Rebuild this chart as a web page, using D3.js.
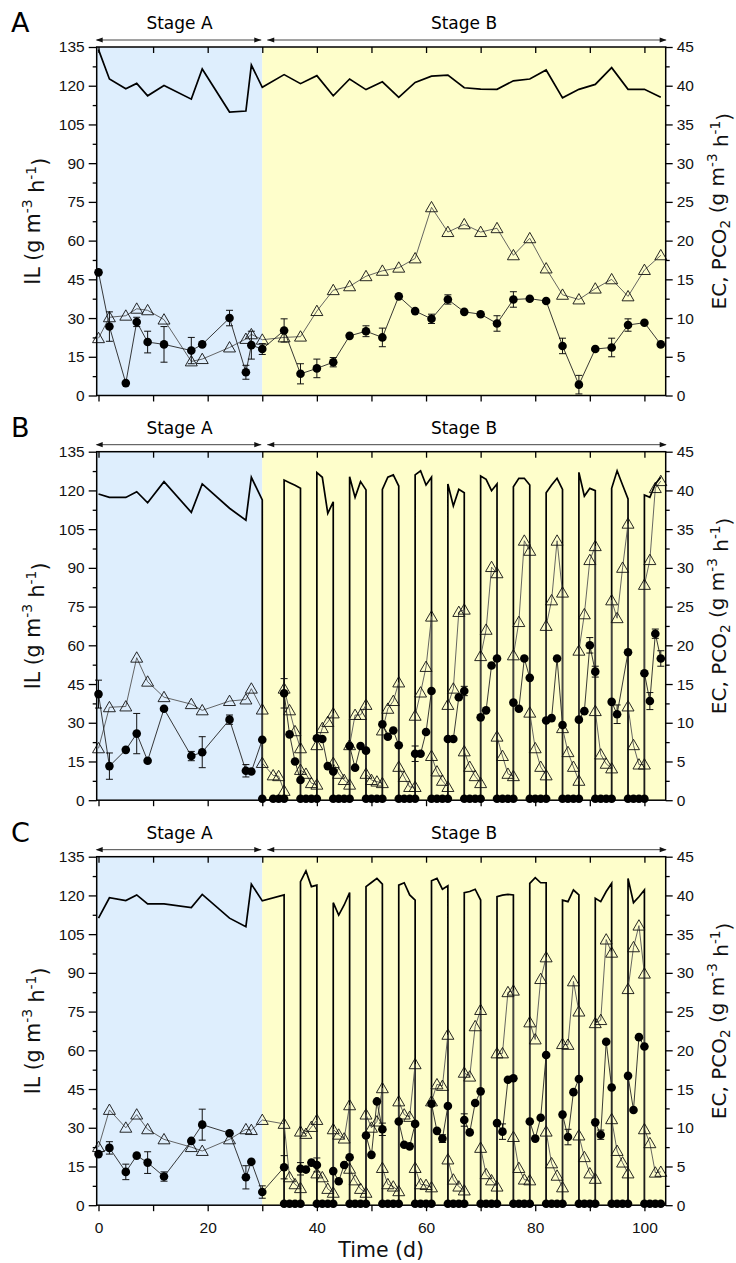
<!DOCTYPE html>
<html>
<title>IL, EC and PCO2 vs time</title>
<style>
  body { margin: 0; background: #fff; }
  svg { display: block; font-family: "DejaVu Sans", sans-serif; }
  .tick text { font-size: 15.5px; fill: #111; }
  .tick line { stroke: #000; stroke-width: 1.3; }
  .domain { display: none; }
</style>
<script src="https://cdn.jsdelivr.net/npm/d3@7"></script>
<svg width="736" height="1263"></svg>
<script>

// ---- panel A (sampling days shared by all three series) ----
const dayA = [0,2,5,7,9,12,17,19,24,27,28,30,34,37,40,43,46,49,52,55,58,61,64,67,70,73,76,79,82,85,88,91,94,97,100,103];
const ilA = [134,122.6,118.8,120.9,116.1,120.1,114.8,126.5,109.8,110.2,128,119.4,124.3,120.8,123.9,116.1,122.6,118.5,121.5,115.5,121.3,123.7,124.1,119.2,118.7,118.6,121.9,122.6,126.1,115.3,118.6,120.5,127,118.6,118.6,115.5];
const ecA = [15.9,8.9,1.6,9.5,6.9,6.6,5.8,6.6,10.0,3.0,6.5,6.0,8.4,2.8,3.5,4.3,7.7,8.3,7.5,12.8,10.9,9.9,12.4,10.8,10.5,9.3,12.4,12.5,12.2,6.4,1.4,6.0,6.2,9.1,9.4,6.6];
const ecErrA = [0,1.9,0,0.6,1.4,2.3,1.7,0,1.0,0.9,1.8,0.7,1.5,1.3,1.2,0.6,0,0.7,1.2,0,0,0.6,0.6,0,0,1.0,1.0,0,0,1.0,1.2,0,1.2,0.8,0,0];
const pco2A = [7.4,10.1,10.3,11.2,11.0,9.8,4.4,4.7,6.2,7.3,7.9,7.2,7.5,7.6,10.9,13.6,14.1,15.4,16.1,16.5,17.7,24.3,21.1,22.1,21.1,21.6,18.1,20.3,16.4,13.0,12.4,13.8,15.0,12.8,16.2,18.1];

// ---- panel B: [day, value] (EC: [day, value, sd]); repeated days = feed switched on/off ----
const ilB = [[0,118.6],[2,117.3],[5,117.3],[7,119.5],[9,115.2],[12,123.4],[17,111.5],[19,122.5],[24,113.1],[27,108.5],[28,125.1],[30,116.3],
  [30,0],[34,0],[34,124],[35,123],[36,122],[37,120.8],[37,0],[40,0],[40,126.9],[41,125.1],[42,111.1],[43,115.6],[43,0],[46,0],
  [46,125.3],[47,117.3],[48,123.4],[49,120.2],[49,0],[52,0],[52,120.4],[53,125.1],[54,126],[55,121.7],[55,0],[58,0],
  [58,126],[59,127.6],[60,122.1],[61,125.1],[61,0],[64,0],[64,122.5],[65,114],[66,120.4],[67,119.1],[67,0],[70,0],
  [70,125.6],[71,124.3],[72,119.9],[73,122.5],[73,0],[76,0],[76,121.4],[77,124.7],[78,124.7],[79,122.1],[79,0],[82,0],
  [82,119.1],[83,122.1],[84,124.7],[85,120.4],[85,0],[88,0],[88,127],[89,117.8],[90,120.8],[91,119.9],[91,0],[94,0],
  [94,120.8],[95,127.6],[96,122.1],[97,116.7],[97,0],[100,0],[100,118.2],[101,117.3],[102,122.5],[103,125.1]];
const ecB = [[0,13.7,1.8],[2,4.4,1.7],[5,6.5,0],[7,8.6,2.6],[9,5.1,0],[12,11.8,0],[17,5.7,0.6],[19,6.2,2.0],[24,10.4,0.6],[27,3.8,0.8],[28,3.7,0],[30,7.8,0],
  [30,0],[32,0],[33,0],[34,0],[34,13.8,1.9],[35,8.5],[36,5.0],[37,2.6],[37,0],[38,0],[39,0],[40,0],
  [40,8.0],[41,7.9],[42,4.4],[43,3.7],[43,0],[44,0],[45,0],[46,0],[46,7.0],[47,4.2],[48,7.0],[49,6.4],[49,0],[50,0],[51,0],[52,0],
  [52,9.8],[53,8.2],[54,9.0],[55,7.1],[55,0],[56,0],[57,0],[58,0],[58,6.0,1.0],[59,6.0],[60,8.8],[61,14.1],[61,0],[62,0],[63,0],[64,0],
  [64,7.9],[65,7.9],[66,13.3],[67,14.1,0.6],[67,0],[68,0],[69,0],[70,0],[70,10.7],[71,11.6],[72,17.4],[73,18.3],[73,0],[74,0],[75,0],[76,0],
  [76,12.6],[77,11.8],[78,18.3],[79,15.8],[79,0],[80,0],[81,0],[82,0],[82,10.3],[83,10.6],[84,18.3],[85,9.7],[85,0],[86,0],[87,0],[88,0],
  [88,10.4],[89,11.5],[90,20.0,1.0],[91,16.6,0.7],[91,0],[92,0],[93,0],[94,0],[94,12.7],[95,11.1,1.2],[97,19.1],[97,0],[98,0],[99,0],[100,0],
  [100,16.4],[101,12.8,1.1],[102,21.5,0.6],[103,18.3,1.0]];
const pco2B = [[0,6.7],[2,12.0],[5,12.1],[7,18.4],[9,15.3],[12,13.3],[17,12.4],[19,11.6],[24,12.8],[27,13.0],[28,14.4],[30,11.7],
  [30,4.8],[32,3.2],[33,3.1],[34,1.2],[34,14.4],[35,11.6],[36,8.9],[37,6.7],[37,3.9],[38,3.4],[39,2.2],[40,2.0],
  [40,7.1],[41,9.3],[42,10.1],[43,11.2],[43,4.8],[44,3.4],[45,2.6],[46,2.0],[46,7.1],[47,11.0],[48,11.0],[49,12.3],
  [49,3.4],[50,2.6],[51,2.4],[52,2.2],[52,9.0],[53,11.8],[54,12.8],[55,15.2],[55,4.3],[56,3.0],[57,1.7],[58,1.7],
  [58,10.9],[59,13.9],[60,17.2],[61,23.7],[61,5.7],[62,3.7],[63,2.5],[64,1.7],[64,12.3],[65,14.4],[66,24.3],[67,24.6],
  [67,6.3],[68,4.3],[69,3.1],[70,2.2],[70,18.6],[71,22.0],[72,30.1],[73,29.3],[73,8.2],[74,5.7],[75,3.4],[76,3.1],
  [76,18.7],[77,23.0],[78,33.5],[79,32.2],[79,11.3],[80,6.7],[81,4.3],[82,3.2],[82,22.5],[83,25.8],[84,33.5],[85,26.8],
  [85,9.3],[86,6.2],[87,4.3],[88,2.5],[88,19.3],[89,24.0],[90,31.0],[91,32.8],[91,11.5],[92,5.9],[93,4.7],[94,4.1],
  [94,25.8],[95,23.5],[96,30.0],[97,35.7],[97,12.1],[98,7.1],[99,4.6],[100,4.6],[100,27.8],[101,31.0],[102,40.3],[103,41.2]];

// ---- panel C ----
const ilC = [[0,111.2],[2,119.1],[5,118],[7,120.2],[9,116.7],[12,116.7],[17,115.3],[19,120.4],[24,111.2],[27,107.9],[28,124.4],[30,117.9],
  [34,120.2],[34,0],[37,0],[37,125.3],[38,129.5],[39,123.4],[40,124],[40,0],[43,0],[43,117.2],[44,112.4],[45,116.3],[46,121.1],[46,0],
  [49,0],[49,123.4],[50,125],[51,126.6],[52,124.4],[52,0],[55,0],[55,124],[56,124.9],[57,120.2],[58,118.2],[58,0],
  [61,0],[61,125.7],[62,126.6],[63,122.4],[64,123.7],[64,0],[67,0],[67,121.1],[68,121.5],[69,122.4],[70,118.2],[70,0],
  [73,0],[73,119.5],[74,120.1],[75,120.4],[76,120.2],[76,0],[79,0],[79,124.7],[80,126.9],[81,124.9],[82,124.9],[82,0],
  [85,0],[85,118.2],[86,117.6],[87,122.1],[88,120.2],[88,0],[91,0],[91,118.9],[92,117.6],[93,121.5],[94,124.7],[94,0],
  [97,0],[97,126.6],[98,117.2],[99,119.5],[100,122.1],[100,0],[103,0]];
const ecC = [[0,6.6,0],[2,7.4,0.8],[5,4.3,1.0],[7,6.4,0],[9,5.5,1.4],[12,3.7,0.6],[17,8.3,0],[19,10.4,2.0],[24,9.3,0],[27,3.6,1.5],[28,5.6,0],[30,1.7,0.8],
  [34,4.9,1.5],[34,0],[35,0],[36,0],[37,0],[37,4.7,0.8],[38,4.6],[39,5.5],[40,5.2,0.9],[40,0],[41,0],[42,0],[43,0],
  [43,4.4],[44,3.1],[45,5.2],[46,6.2],[46,0],[47,0],[48,0],[49,0],[49,9.0],[50,6.5],[51,13.4],[52,9.8,0.8],[52,0],[53,0],[54,0],[55,0],
  [55,10.8],[56,7.8],[57,7.6],[58,10.5],[58,0],[59,0],[60,0],[61,0],[61,13.1],[62,9.6],[63,8.6,0.5],[64,12.8],[64,0],[65,0],[66,0],[67,0],
  [67,11.0,0.8],[68,9.4],[69,13.2],[70,14.7],[70,0],[71,0],[72,0],[73,0],[73,10.6],[74,9.5,1.0],[75,16.2],[76,16.4],[76,0],[77,0],[78,0],[79,0],
  [79,10.8],[80,8.6],[81,11.3],[82,19.4],[82,0],[83,0],[84,0],[85,0],[85,11.7],[86,8.8,1.0],[87,14.6],[88,16.3],[88,0],[89,0],[90,0],[91,0],
  [91,10.7],[92,9.1,0.6],[93,21.1],[94,15.2],[94,0],[95,0],[96,0],[97,0],[97,16.7],[98,12.3],[99,21.7],[100,20.5],[100,0],[101,0],[102,0],[103,0]];
const pco2C = [[0,7.5],[2,12.3],[5,10.0],[7,11.7],[9,9.8],[12,8.5],[17,7.5],[19,7.0],[24,8.5],[27,9.8],[28,9.7],[30,11.0],
  [34,10.5],[35,3.6],[36,2.7],[37,2.2],[37,9.5],[38,9.2],[39,10.1],[40,11.0],[40,4.1],[41,3.6],[42,2.1],[43,1.6],
  [43,9.8],[44,9.1],[45,8.6],[46,12.9],[46,4.7],[47,3.2],[48,2.1],[49,1.6],[49,11.7],[50,10.0],[51,10.8],[52,15.1],
  [52,4.8],[53,2.7],[54,2.4],[55,1.8],[55,13.4],[56,11.7],[57,11.4],[58,18.2],[58,4.8],[59,2.7],[60,2.6],[61,2.3],
  [61,13.4],[62,15.6],[63,15.4],[64,22.0],[64,5.9],[65,3.3],[66,2.4],[67,1.9],[67,17.1],[68,16.6],[69,23.1],[70,25.2],
  [70,7.4],[71,4.0],[72,3.2],[73,2.4],[73,19.6],[74,19.6],[75,27.5],[76,27.7],[76,8.8],[77,4.8],[78,3.3],[79,3.2],
  [79,23.6],[80,21.4],[81,29.2],[82,32.0],[82,9.5],[83,5.4],[84,3.8],[85,2.3],[85,20.8],[86,20.7],[87,28.9],[88,25.0],
  [88,9.0],[89,6.2],[90,4.1],[91,3.4],[91,23.5],[92,23.9],[93,34.3],[94,32.6],[94,11.1],[95,7.0],[96,5.5],[97,4.1],
  [97,27.9],[98,33.3],[99,36.1],[100,29.9],[100,9.8],[101,8.0],[102,4.2],[103,4.3]];

const panelLetters = ["A", "B", "C"];
const stageLabels = ["Stage A", "Stage B"];
const stageSplit = 30;
const ilTicks = d3.range(0, 136, 15);
const rightTicks = d3.range(0, 46, 5);
const dayTicks = d3.range(0, 101, 10);

const svg = d3.select("svg");
const plotH = 348.5;
const tops = [47, 451.7, 856.7];

const x = d3.scaleLinear().domain([-0.33, 103.9]).range([96.7, 665.7]);
const yL = d3.scaleLinear().domain([0, 135]).range([plotH, 0]);
const yR = d3.scaleLinear().domain([0, 45]).range([plotH, 0]);
const [x0, x1] = x.range();

const panels = [
  {il: d3.zip(dayA, ilA), ec: dayA.map((d, i) => [d, ecA[i], ecErrA[i]]), pco2: d3.zip(dayA, pco2A)},
  {il: ilB, ec: ecB, pco2: pco2B},
  {il: ilC, ec: ecC, pco2: pco2C}
];

function unitText(t, parts) {
  parts.forEach(([s, k]) => {
    const ts = t.append("tspan").text(s);
    if (k === "sup") ts.attr("font-size", "0.68em").attr("dy", "-0.55em");
    if (k === "sub") ts.attr("font-size", "0.68em").attr("dy", "0.3em");
    if (k === "back") ts.attr("dy", "0.55em");
    if (k === "up") ts.attr("dy", "-0.3em");
  });
}

function arrowHead(g, tip, y, dir) {
  g.append("path")
      .attr("d", `M${tip},${y} L${tip - dir * 7},${y - 2.6} L${tip - dir * 7},${y + 2.6} Z`)
      .attr("fill", "#111");
}

panels.forEach((p, i) => {
  const g = svg.append("g").attr("transform", `translate(0,${tops[i]})`);

  g.append("clipPath").attr("id", "clip" + i)
    .append("rect").attr("x", x0).attr("y", 0).attr("width", x1 - x0).attr("height", plotH);

  g.append("rect").attr("x", x0).attr("y", 0).attr("width", x(stageSplit) - x0).attr("height", plotH)
      .attr("fill", "#deeefd");
  g.append("rect").attr("x", x(stageSplit)).attr("y", 0).attr("width", x1 - x(stageSplit)).attr("height", plotH)
      .attr("fill", "#fefecb");

  const plot = g.append("g").attr("clip-path", `url(#clip${i})`);

  plot.append("path")
      .datum(p.il)
      .attr("fill", "none")
      .attr("stroke", "#000")
      .attr("stroke-width", 1.7)
      .attr("d", d3.line().x(d => x(d[0])).y(d => yL(d[1])));

  plot.append("path")
      .datum(p.pco2)
      .attr("fill", "none")
      .attr("stroke", "#555")
      .attr("stroke-width", 0.9)
      .attr("d", d3.line().x(d => x(d[0])).y(d => yR(d[1])));

  plot.append("path")
      .datum(p.ec)
      .attr("fill", "none")
      .attr("stroke", "#222")
      .attr("stroke-width", 0.9)
      .attr("d", d3.line().x(d => x(d[0])).y(d => yR(d[1])));

  // error bars
  const errs = p.ec.filter(d => d[2] > 0);
  const eb = g.append("g").attr("stroke", "#111").attr("stroke-width", 1).attr("fill", "none");
  eb.selectAll("path").data(errs).join("path")
      .attr("d", d => {
        const cx = x(d[0]), ya = yR(d[1] + d[2]), yb = yR(d[1] - d[2]);
        return `M${cx},${ya}V${yb}M${cx - 3.5},${ya}H${cx + 3.5}M${cx - 3.5},${yb}H${cx + 3.5}`;
      });

  // markers are not clipped, so the zero points sit on the frame
  g.append("g").selectAll("path").data(p.pco2).join("path")
      .attr("transform", d => `translate(${x(d[0])},${yR(d[1]) + 1})`)
      .attr("d", d3.symbol(d3.symbolTriangle, 62))
      .attr("fill", "none")
      .attr("stroke", "#111")
      .attr("stroke-width", 0.9);

  g.append("g").selectAll("circle").data(p.ec).join("circle")
      .attr("cx", d => x(d[0]))
      .attr("cy", d => d[1] === 0 ? yR(0) - 1.5 : yR(d[1]))
      .attr("r", 4.3)
      .attr("fill", "#000");

  // frame
  g.append("rect").attr("x", x0).attr("y", 0).attr("width", x1 - x0).attr("height", plotH)
      .attr("fill", "none").attr("stroke", "#000").attr("stroke-width", 1.5);

  // axes
  g.append("g").call(d3.axisLeft(yL).tickValues(ilTicks).tickSize(8).tickPadding(4))
      .attr("transform", `translate(${x0},0)`);
  g.append("g").call(d3.axisLeft(yL).tickValues(d3.range(7.5, 135, 15)).tickSize(4).tickFormat(""))
      .attr("transform", `translate(${x0},0)`);
  g.append("g").call(d3.axisRight(yR).tickValues(rightTicks).tickSize(7).tickPadding(4))
      .attr("transform", `translate(${x1},0)`);
  g.append("g").call(d3.axisRight(yR).tickValues(d3.range(2.5, 45, 5)).tickSize(4).tickFormat(""))
      .attr("transform", `translate(${x1},0)`);
  g.append("g").call(d3.axisBottom(x).tickValues(dayTicks).tickSize(6).tickPadding(11)
        .tickFormat(d => (i === 2 && d % 20 === 0) ? d : ""))
      .attr("transform", `translate(0,${plotH})`);
  g.append("g").call(d3.axisTop(x).tickValues(dayTicks).tickSize(-6).tickFormat(""));

  // stage arrows
  const ay = -7;
  const ann = g.append("g");
  ann.append("line").attr("x1", x0).attr("x2", x(stageSplit) - 1).attr("y1", ay).attr("y2", ay)
      .attr("stroke", "#444").attr("stroke-width", 1);
  ann.append("line").attr("x1", x(stageSplit) + 5).attr("x2", x1).attr("y1", ay).attr("y2", ay)
      .attr("stroke", "#444").attr("stroke-width", 1);
  arrowHead(ann, x0 - 1, ay, -1);
  arrowHead(ann, x(stageSplit) - 1, ay, 1);
  arrowHead(ann, x(stageSplit) + 5, ay, -1);
  arrowHead(ann, x1 + 1, ay, 1);
  ann.append("text").attr("x", (x0 + x(stageSplit)) / 2).attr("y", -18)
      .attr("text-anchor", "middle").attr("font-size", 17).text(stageLabels[0]);
  ann.append("text").attr("x", (x(stageSplit) + x1) / 2).attr("y", -18)
      .attr("text-anchor", "middle").attr("font-size", 17).text(stageLabels[1]);

  g.append("text").attr("x", 11).attr("y", -15).attr("font-size", 27).text(panelLetters[i]);

  // axis titles
  const lt = g.append("text")
      .attr("transform", `translate(40,${plotH / 2}) rotate(-90)`)
      .attr("text-anchor", "middle").attr("font-size", 20.5).attr("fill", "#111");
  unitText(lt, [["IL (g m"], ["-3", "sup"], [" h", "back"], ["-1", "sup"], [")", "back"]]);

  const rt = g.append("text")
      .attr("transform", `translate(726,${plotH / 2 - 10}) rotate(-90)`)
      .attr("text-anchor", "middle").attr("font-size", 20).attr("fill", "#111");
  unitText(rt, [["EC, PCO"], ["2", "sub"], [" (g m", "up"], ["-3", "sup"], [" h", "back"], ["-1", "sup"], [")", "back"]]);
});

svg.append("text").attr("x", (x0 + x1) / 2).attr("y", 1257)
    .attr("text-anchor", "middle").attr("font-size", 20.5).attr("fill", "#111").text("Time (d)");

</script>
</html>
